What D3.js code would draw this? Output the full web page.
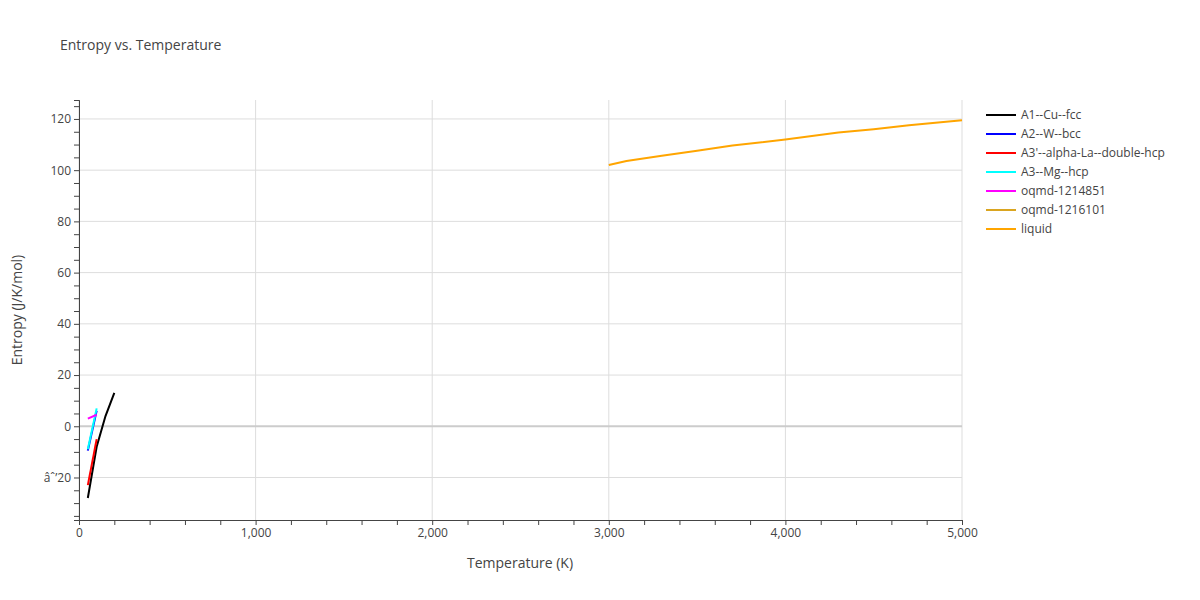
<!DOCTYPE html><html><head><script src="https://cdn.jsdelivr.net/npm/d3@7"></script>
<style>body{margin:0;background:#fff}text{font-family:"Open Sans",sans-serif}</style></head><body><svg width="1200" height="600"></svg>
<script>
const names=["A1--Cu--fcc","A2--W--bcc","A3'--alpha-La--double-hcp","A3--Mg--hcp","oqmd-1214851","oqmd-1216101","liquid"];
const colors=["black","blue","red","cyan","magenta","goldenrod","orange"];
const tCu=[50,100,150,200], sCu=[-28,-8,4,13];
const tW=[50,100], sW=[-9.5,6];
const tLa=[50,100], sLa=[-23,-5];
const tMg=[50,100], sMg=[-9,7];
const t1214851=[50,100], s1214851=[3,4.5];
const t1216101=[], s1216101=[];
const tLiq=[3000,3100,3300,3500,3700,4000,4300,4500,4700,5000], sLiq=[102,103.6,105.6,107.6,109.6,112,114.7,116,117.5,119.5];
const series=[[tCu,sCu],[tW,sW],[tLa,sLa],[tMg,sMg],[t1214851,s1214851],[t1216101,s1216101],[tLiq,sLiq]];
const svg=d3.select("svg");
const x=d3.scaleLinear().domain([0,5000]).range([79,962]);
const y=d3.scaleLinear().domain([-36.6,127.4]).range([520,100]);
const g=svg.append("g");
x.ticks(5).forEach(v=>g.append("line").attr("x1",x(v)).attr("x2",x(v)).attr("y1",100).attr("y2",520).attr("stroke","#ddd"));
[-20,0,20,40,60,80,100,120].forEach(v=>g.append("line").attr("x1",79).attr("x2",962).attr("y1",y(v)).attr("y2",y(v)).attr("stroke",v==0?"#ccc":"#ddd").attr("stroke-width",v==0?2:1));
const xa=svg.append("g").attr("transform","translate(0,520)").call(d3.axisBottom(x).tickValues([0,1000,2000,3000,4000,5000]).tickSize(0).tickPadding(8));
const xm=svg.append("g").attr("transform","translate(0,520)").call(d3.axisBottom(x).tickValues(d3.range(0,5001,200)).tickSize(5).tickFormat(""));
const ya=svg.append("g").attr("transform","translate(79,0)").call(d3.axisLeft(y).tickValues([-20,0,20,40,60,80,100,120]).tickSize(0).tickPadding(8));
const ym=svg.append("g").attr("transform","translate(79,0)").call(d3.axisLeft(y).tickValues(d3.range(-35,126,5)).tickSize(5).tickFormat(""));
[xa,ya,xm,ym].forEach(a=>{a.selectAll("text").attr("fill","#444").style("font-size","12px");a.selectAll("line").attr("stroke","#444");a.select(".domain").attr("stroke","#444");});
const line=d3.line().x(d=>x(d[0])).y(d=>y(d[1]));
series.forEach((s,i)=>{const pts=s[0].map((t,j)=>[t,s[1][j]]);if(pts.length)svg.append("path").attr("d",line(pts)).attr("fill","none").attr("stroke",colors[i]).attr("stroke-width",2);});
svg.append("text").attr("x",60).attr("y",50).text("Entropy vs. Temperature").attr("fill","#444").style("font-size","14px");
svg.append("text").attr("x",520).attr("y",568).attr("text-anchor","middle").text("Temperature (K)").attr("fill","#444").style("font-size","14px");
svg.append("text").attr("transform","translate(22,310) rotate(-90)").attr("text-anchor","middle").text("Entropy (J/K/mol)").attr("fill","#444").style("font-size","14px");
names.forEach((n,i)=>{const yy=115+i*19;svg.append("line").attr("x1",986).attr("x2",1016).attr("y1",yy).attr("y2",yy).attr("stroke",colors[i]).attr("stroke-width",2);svg.append("text").attr("x",1021).attr("y",yy+4).text(n).attr("fill","#444").style("font-size","12px");});
</script></body></html>
